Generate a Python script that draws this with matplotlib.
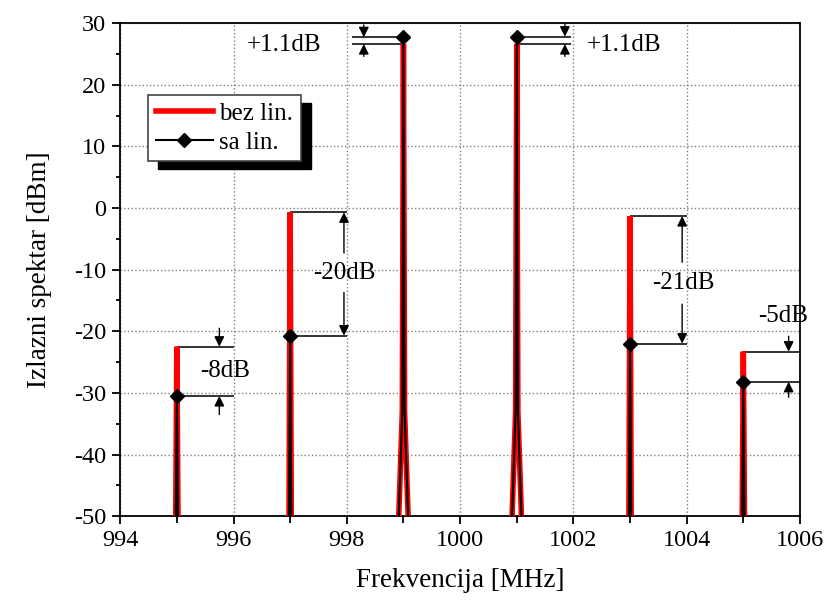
import matplotlib
matplotlib.use("Agg")
import matplotlib.pyplot as plt
from matplotlib.patches import Rectangle
import numpy as np

plt.rcParams['font.family'] = ['Liberation Serif', 'DejaVu Serif']
plt.rcParams['axes.unicode_minus'] = False

# tone frequencies [MHz] and peak levels [dBm]
tone_freq = [995, 997, 999, 1001, 1003, 1005]
bez_lin_peak = [-22.5, -0.7, 26.6, 26.6, -1.3, -23.3]
sa_lin_peak = [-30.5, -20.7, 27.7, 27.8, -22.0, -28.2]
# level where the spike skirt starts to widen (bottom part of each spike)
skirt_level = [-50, -50, -33, -33, -50, -50]
floor_level = -60

ann_text = ["-8dB", "-20dB", "+1.1dB", "+1.1dB", "-21dB", "-5dB"]


def spike_trace(freqs, peaks, skirts):
    xs, ys, peak_idx = [], [], []
    for f, p, s in zip(freqs, peaks, skirts):
        xs += [f - 0.12, f - 0.02, f, f + 0.02, f + 0.12]
        ys += [floor_level, s, p, s, floor_level]
        peak_idx.append(len(xs) - 3)
    return np.array(xs), np.array(ys), peak_idx


fig = plt.figure(figsize=(8.29, 6.08), dpi=100)
ax = fig.add_axes([0.145, 0.151, 0.82, 0.811])

xr, yr, _ = spike_trace(tone_freq, bez_lin_peak, skirt_level)
xb, yb, pidx = spike_trace(tone_freq, sa_lin_peak, skirt_level)

ax.plot(xr, yr, color='red', lw=4, label='bez lin.', zorder=3,
        solid_joinstyle='miter')
ax.plot(xb, yb, color='black', lw=1.5, marker='D', markersize=7,
        markevery=pidx, label='sa lin.', zorder=4)

ax.set_xlim(994, 1006)
ax.set_ylim(-50, 30)
ax.set_xticks(np.arange(994, 1007, 2))
ax.set_xticks(np.arange(995, 1006, 2), minor=True)
ax.set_yticks(np.arange(-50, 31, 10))
ax.set_yticks(np.arange(-45, 30, 10), minor=True)
ax.tick_params(axis='both', which='major', labelsize=17.5, direction='out',
               length=6, width=1.3, pad=4)
ax.tick_params(axis='x', which='minor', direction='out', length=5, width=1.3)
ax.tick_params(axis='y', which='minor', direction='out', length=3, width=1.3)
ax.grid(True, which='major', linestyle=':', color='gray', lw=1)
for sp in ax.spines.values():
    sp.set_linewidth(1.3)

ax.set_xlabel('Frekvencija [MHz]', fontsize=19.5, labelpad=12)
ax.set_ylabel('Izlazni spektar [dBm]', fontsize=19.5, labelpad=16)

line_kw = dict(color='#333333', lw=1.4, zorder=2)
arrow_kw = dict(arrowstyle='-|>', color='black', lw=1, mutation_scale=15,
                shrinkA=0, shrinkB=0)


def outer_arrows(x, top, bottom, length=2.5):
    ax.annotate('', xy=(x, top), xytext=(x, top + length), arrowprops=arrow_kw)
    ax.annotate('', xy=(x, bottom), xytext=(x, bottom - length), arrowprops=arrow_kw)


# 995 MHz: -8dB
ax.hlines([bez_lin_peak[0], sa_lin_peak[0]], 995, 996, **line_kw)
outer_arrows(995.75, bez_lin_peak[0], sa_lin_peak[0], 3)
ax.text(995.85, -26.4, ann_text[0], fontsize=18, ha='center', va='center')

# 997 MHz: -20dB
ax.hlines([bez_lin_peak[1], sa_lin_peak[1]], 997, 998, **line_kw)
ax.annotate('', xy=(997.95, bez_lin_peak[1]), xytext=(997.95, -7.3), arrowprops=arrow_kw)
ax.annotate('', xy=(997.95, sa_lin_peak[1]), xytext=(997.95, -13.7), arrowprops=arrow_kw)
ax.text(997.95, -10.5, ann_text[1], fontsize=18, ha='center', va='center')

# 999 MHz: +1.1dB
ax.hlines([bez_lin_peak[2], sa_lin_peak[2]], 998.1, 999, **line_kw)
outer_arrows(998.3, sa_lin_peak[2], bez_lin_peak[2], 2)
ax.text(996.9, 26.4, ann_text[2], fontsize=18, ha='center', va='center')

# 1001 MHz: +1.1dB
ax.hlines([bez_lin_peak[3], sa_lin_peak[3]], 1001, 1001.95, **line_kw)
outer_arrows(1001.85, sa_lin_peak[3], bez_lin_peak[3], 2)
ax.text(1002.9, 26.4, ann_text[3], fontsize=18, ha='center', va='center')

# 1003 MHz: -21dB
ax.hlines([bez_lin_peak[4], sa_lin_peak[4]], 1003, 1004, **line_kw)
ax.annotate('', xy=(1003.92, bez_lin_peak[4]), xytext=(1003.92, -8.8), arrowprops=arrow_kw)
ax.annotate('', xy=(1003.92, sa_lin_peak[4]), xytext=(1003.92, -15.6), arrowprops=arrow_kw)
ax.text(1003.95, -12.2, ann_text[4], fontsize=18, ha='center', va='center')

# 1005 MHz: -5dB
ax.hlines([bez_lin_peak[5], sa_lin_peak[5]], 1005, 1006, **line_kw)
outer_arrows(1005.8, bez_lin_peak[5], sa_lin_peak[5], 2.5)
ax.text(1005.7, -17.6, ann_text[5], fontsize=18, ha='center', va='center')

leg = ax.legend(loc='upper left', bbox_to_anchor=(0.041, 0.854), fontsize=18,
                frameon=True, fancybox=False, edgecolor='#444444',
                framealpha=1, handlelength=2.3, borderpad=0.3,
                labelspacing=0.25, handletextpad=0.25, borderaxespad=0)
leg.get_frame().set_linewidth(1.2)

# black drop shadow behind the legend box
fig.canvas.draw()
bb = leg.get_window_extent().transformed(ax.transAxes.inverted())
dx = 10 / ax.bbox.width
dy = 8 / ax.bbox.height
ax.add_patch(Rectangle((bb.x0 + dx, bb.y0 - dy), bb.width, bb.height,
                       transform=ax.transAxes, color='black', zorder=4.9,
                       clip_on=False))

fig.savefig('out.png', dpi=100)
